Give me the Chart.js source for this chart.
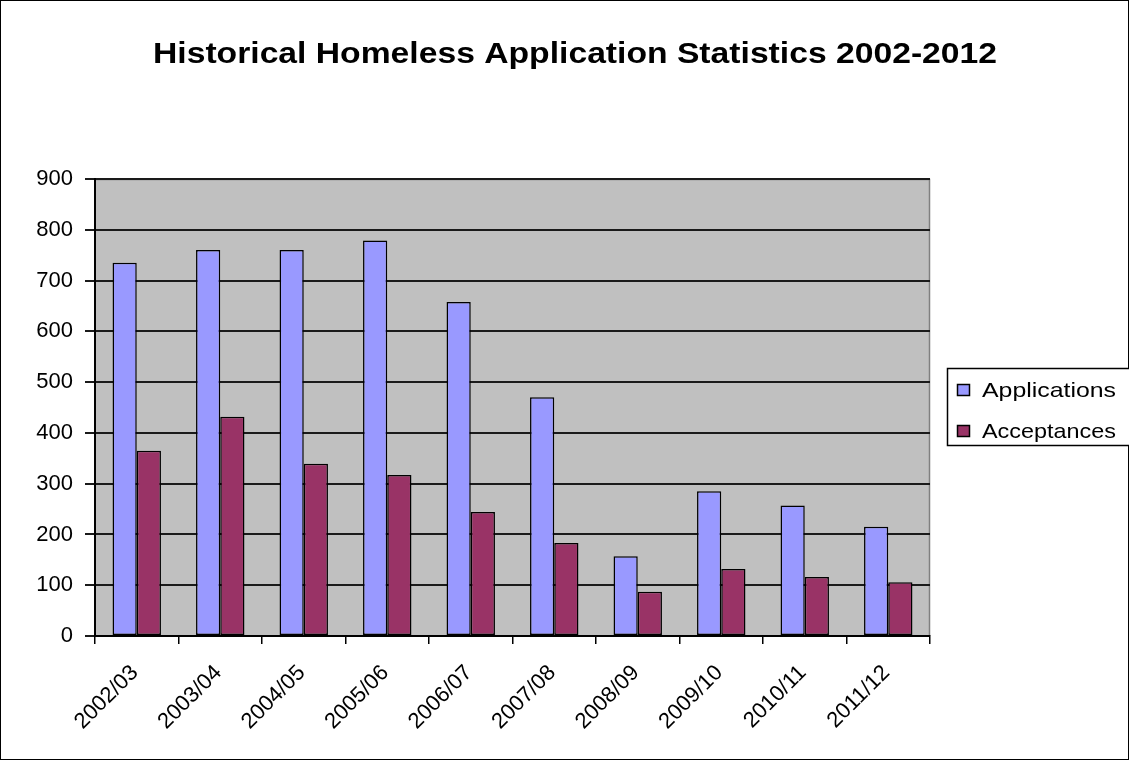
<!DOCTYPE html>
<html>
<head>
<meta charset="utf-8">
<script src="https://cdn.jsdelivr.net/npm/chart.js@4/dist/chart.umd.min.js"></script>
<style>
  html, body { margin: 0; padding: 0; background: #fff; }
  #wrap { width: 1129px; height: 760px; position: relative; }
</style>
</head>
<body>
<div id="wrap"><canvas id="myChart" width="1129" height="760"></canvas></div>
<script>
const years = ['2002/03', '2003/04', '2004/05', '2005/06', '2006/07', '2007/08', '2008/09', '2009/10', '2010/11', '2011/12'];
const applications = [735, 760, 760, 779, 658, 470, 157, 285, 257, 215];
const acceptances = [365, 432, 339, 317, 244, 183, 87, 132, 116, 106];
const yTicks = [0, 100, 200, 300, 400, 500, 600, 700, 800, 900];
const chartTitle = 'Historical Homeless Application Statistics 2002-2012';

const font = 'Arial, "Liberation Sans", sans-serif';

// draw text stretched sideways to a given width (the original is a bit wide)
function wideText(c, text, x, y, width, align) {
    const w = c.measureText(text).width;
    const sx = width / w;
    c.save();
    c.translate(x, y);
    c.scale(sx, 1);
    c.textAlign = align;
    c.fillText(text, 0, 0);
    c.restore();
}

// grey plot background, title, legend and frame round the whole picture
const backdrop = {
    id: 'backdrop',
    beforeDraw(chart) {
        const c = chart.ctx;
        const a = chart.chartArea;
        c.save();
        c.fillStyle = '#ffffff';
        c.fillRect(0, 0, chart.width, chart.height);
        c.fillStyle = '#c0c0c0';
        c.fillRect(a.left, a.top, a.right - a.left, a.bottom - a.top);
        c.strokeStyle = '#808080';
        c.lineWidth = 1.5;
        c.beginPath();
        c.moveTo(a.left, a.top + 0.5);
        c.lineTo(a.right - 0.5, a.top + 0.5);
        c.lineTo(a.right - 0.5, a.bottom);
        c.stroke();
        c.restore();
    },
    afterDraw(chart) {
        const c = chart.ctx;
        c.save();
        c.strokeStyle = '#000';
        c.lineWidth = 1;
        c.strokeRect(0.5, 0.5, chart.width - 1, chart.height - 1);

        c.fillStyle = '#000';
        c.textBaseline = 'alphabetic';
        c.font = 'bold 29px ' + font;
        wideText(c, chartTitle, 153, 63, 844, 'left');

        // legend box on the right
        const x = 947, y = 368, w = 190, h = 77;
        c.fillStyle = '#fff';
        c.fillRect(x, y, w, h);
        c.lineWidth = 1.5;
        c.strokeRect(x + 0.5, y + 0.5, w, h);
        c.font = '21px ' + font;
        chart.data.datasets.forEach((ds, i) => {
            const base = y + 28 + i * 41;
            c.fillStyle = ds.backgroundColor;
            c.fillRect(957, base - 12, 13, 12);
            c.strokeStyle = '#000';
            c.lineWidth = 1.5;
            c.strokeRect(957.5, base - 11.5, 12, 11);
            c.fillStyle = '#000';
            wideText(c, ds.label, 982, base + 1, 134, 'left');
        });
        c.restore();
    }
};

const ctx = document.getElementById('myChart').getContext('2d');
const myChart = new Chart(ctx, {
    type: 'bar',
    data: {
        labels: years,
        datasets: [{
            label: 'Applications',
            data: applications,
            backgroundColor: '#9999ff',
            borderColor: '#000',
            borderWidth: 1.5,
            borderSkipped: false
        }, {
            label: 'Acceptances',
            data: acceptances,
            backgroundColor: '#993366',
            borderColor: '#000',
            borderWidth: 1.5,
            borderSkipped: false
        }]
    },
    options: {
        responsive: false,
        animation: false,
        devicePixelRatio: 1,
        layout: { padding: { left: 0, right: 199, top: 179, bottom: 0 } },
        datasets: { bar: { categoryPercentage: 0.58, barPercentage: 1 } },
        plugins: {
            legend: { display: false },
            tooltip: { enabled: false },
            title: { display: false }
        },
        scales: {
            x: {
                offset: true,
                grid: { offset: true, drawOnChartArea: false, color: '#000', tickLength: 8, lineWidth: 1.5 },
                border: { color: '#000', width: 2 },
                ticks: {
                    color: '#000', font: { family: font, size: 22 },
                    minRotation: 45, maxRotation: 45, padding: 16, labelOffset: -2, autoSkip: false
                },
                afterFit(scale) { scale.height = 124; }
            },
            y: {
                min: 0,
                max: 900,
                afterBuildTicks(scale) { scale.ticks = yTicks.map(v => ({ value: v })); },
                grid: { color: '#1a1a1a', tickLength: 10, lineWidth: 2 },
                border: { color: '#000', width: 2 },
                ticks: { color: '#000', font: { family: font, size: 22 }, padding: 12 },
                afterFit(scale) { scale.width = 95; }
            }
        }
    },
    plugins: [backdrop]
});
</script>
</body>
</html>
